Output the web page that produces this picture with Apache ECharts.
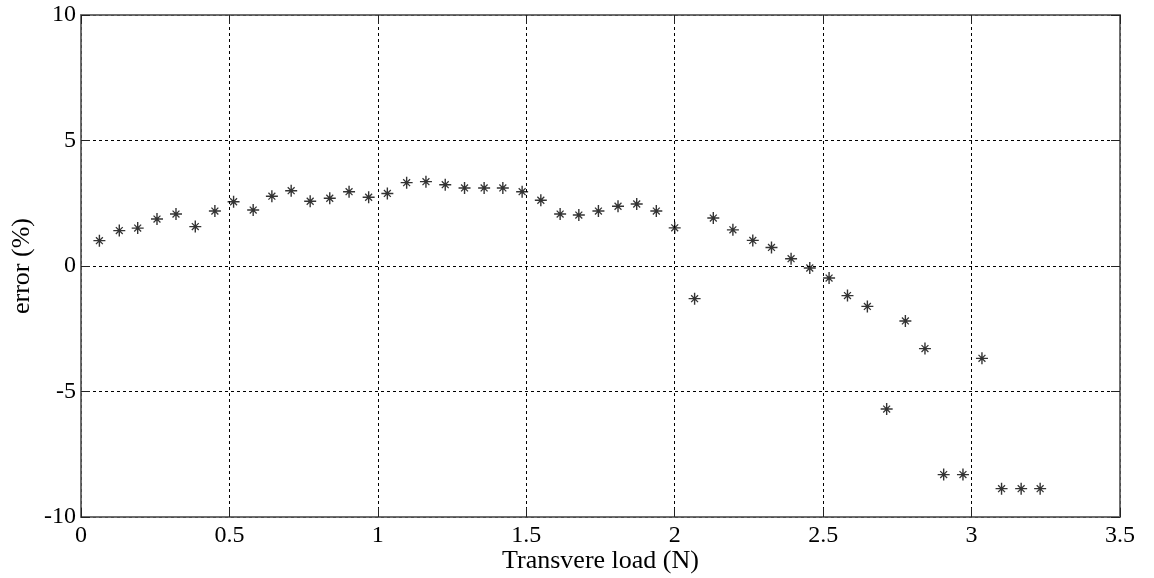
<!DOCTYPE html>
<html>
<head>
<meta charset="utf-8">
<script src="https://cdn.jsdelivr.net/npm/echarts@6/dist/echarts.min.js"></script>
<style>html,body{margin:0;padding:0;background:#fff}#c{width:1154px;height:578px}</style>
</head>
<body>
<div id="c"></div>
<script>
const loadN = [0.062,0.129,0.191,0.256,0.320,0.385,0.451,0.514,0.580,0.643,
  0.708,0.772,0.838,0.903,0.969,1.032,1.097,1.162,1.227,1.292,
  1.358,1.421,1.486,1.549,1.614,1.677,1.743,1.809,1.872,1.938,
  2.000,2.067,2.130,2.196,2.263,2.326,2.392,2.455,2.520,2.582,
  2.649,2.714,2.777,2.843,2.906,2.971,3.035,3.101,3.167,3.231];
const errorPct = [1.01,1.41,1.51,1.87,2.07,1.57,2.19,2.56,2.23,2.78,
  3.00,2.58,2.70,2.96,2.74,2.89,3.32,3.36,3.24,3.11,
  3.11,3.11,2.96,2.62,2.07,2.03,2.19,2.38,2.47,2.19,
  1.52,-1.30,1.91,1.44,1.02,0.74,0.29,-0.08,-0.48,-1.18,
  -1.61,-5.70,-2.19,-3.29,-8.31,-8.31,-3.68,-8.87,-8.87,-8.87];
const xTicks = [0,0.5,1,1.5,2,2.5,3,3.5];
const yTicks = [-10,-5,0,5,10];

const star = 'path://M5.3,0h1.4v12h-1.4z M0,5.3h12v1.4h-12z M2.1,3L3,2.1L9.9,9L9,9.9Z M9,2.1L9.9,3L3,9.9L2.1,9Z';
const font = 'Liberation Serif';
const chart = echarts.init(document.getElementById('c'), null, {renderer:'canvas'});
const axisCommon = {
  axisLine:{show:true,onZero:false,lineStyle:{color:'#666',width:1.5}},
  axisTick:{show:true,inside:true,length:9,lineStyle:{color:'#222',width:1}},
  splitLine:{show:false}
};
const grid = {show:true,lineStyle:{color:'#000',width:1,type:[3,3]}};
chart.setOption({
  backgroundColor:'#fff',
  animation:false,
  grid:{left:81,top:15,right:34,bottom:61,show:true,borderColor:'#666',borderWidth:1.5,outerBoundsMode:'none',containLabel:false},
  xAxis:[
    Object.assign({type:'value',position:'bottom',min:xTicks[0],max:xTicks[xTicks.length-1],interval:0.5,
      name:'Transvere load (N)',nameLocation:'middle',nameGap:31,nameMoveOverlap:false,
      nameTextStyle:{fontFamily:font,fontSize:26,color:'#000'},
      axisLabel:{fontFamily:font,fontSize:24,color:'#000',margin:7,formatter:v=>String(v)},
    },axisCommon,{splitLine:grid}),
    Object.assign({type:'value',position:'top',min:0,max:3.5,interval:0.5,axisLabel:{show:false}},axisCommon)
  ],
  yAxis:[
    Object.assign({type:'value',position:'left',min:yTicks[0],max:yTicks[yTicks.length-1],interval:5,
      name:'error (%)',nameLocation:'middle',nameGap:46,nameRotate:90,nameMoveOverlap:false,
      nameTextStyle:{fontFamily:font,fontSize:26,color:'#000'},
      axisLabel:{fontFamily:font,fontSize:24,color:'#000',margin:5,formatter:v=>String(v)},
    },axisCommon,{splitLine:grid}),
    Object.assign({type:'value',position:'right',min:-10,max:10,interval:5,axisLabel:{show:false}},axisCommon)
  ],
  series:[{
    type:'scatter',
    xAxisIndex:0,yAxisIndex:0,
    data:loadN.map((x,i)=>[x,errorPct[i]]),
    symbol:star,
    symbolSize:12,
    itemStyle:{color:'#000'}
  }]
});
</script>
</body>
</html>
